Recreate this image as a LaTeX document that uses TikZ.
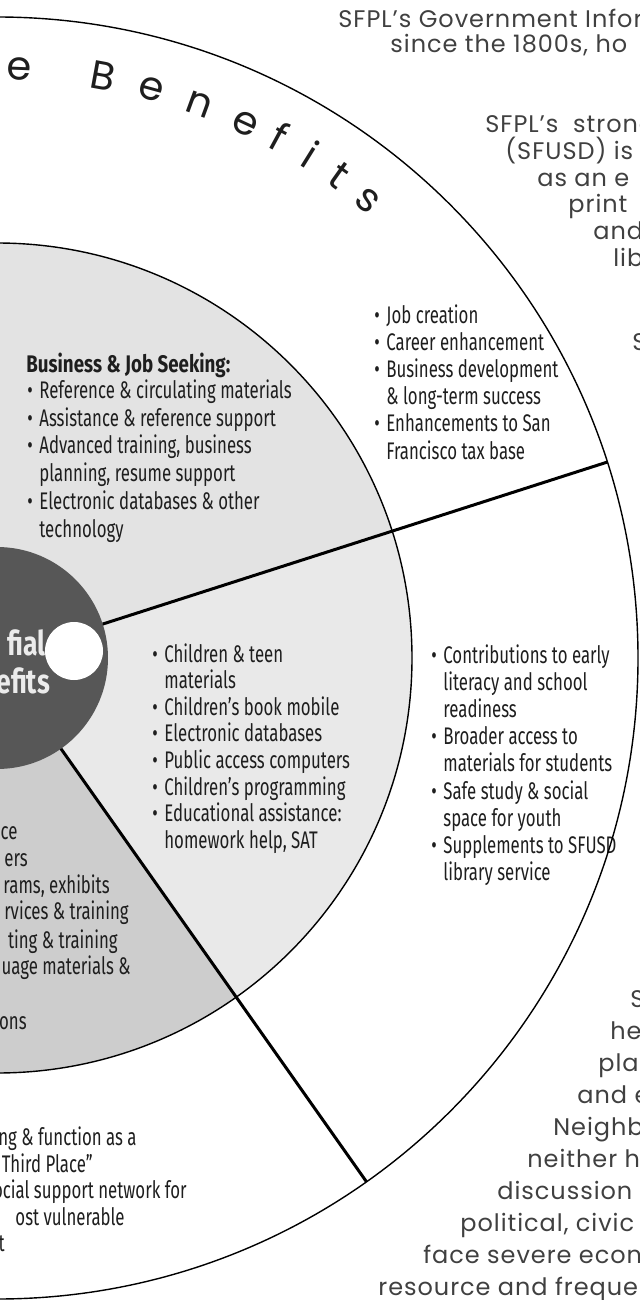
\documentclass[tikz,border=0pt]{standalone}
\usepackage{fontspec}
\setmainfont{Poppins}
\newfontfamily\condfont[FakeStretch=0.7]{Fira Sans}
\newfontfamily\headfont[FakeStretch=0.78]{Fira Sans}
\newfontfamily\parafont[LetterSpace=4]{Poppins}
\usetikzlibrary{calc}
\definecolor{ink}{HTML}{1E1E1E}
\definecolor{paper}{HTML}{E3E3E3}
\definecolor{paperlt}{HTML}{E9E9E9}
\definecolor{paperdk}{HTML}{CDCDCD}
\definecolor{hubgray}{HTML}{575757}
\newcommand{\bul}{\makebox[6pt][l]{\textbullet}}
\newcommand{\ind}{\hspace*{6pt}}

\begin{document}
\begin{tikzpicture}[x=0.5pt,y=-0.5pt,
  item/.style={anchor=base west,inner sep=0,text=ink,font=\condfont\fontsize{12}{14}\selectfont},
  cutitem/.style={item,anchor=base east},
  para/.style={anchor=base west,inner sep=0,text=ink!85,font=\parafont\fontsize{12}{14}\selectfont},
  title/.style={anchor=base,inner sep=0,text=ink,font=\fontsize{20}{20}\selectfont},
  hubtext/.style={anchor=base west,inner sep=0,text=white!92!black,font=\headfont\bfseries\fontsize{17}{17}\selectfont},
  rim/.style={line width=0.7pt},
  spoke/.style={line width=1.5pt}]
\useasboundingbox (0,0) rectangle (640,1300);
\clip (0,0) rectangle (640,1300);
\coordinate (c) at (-3,658);
\path (c) ++(-17.8:111) coordinate (s1a) ++(-17.8:530) coordinate (s1b);
\path (c) ++(54.8:111) coordinate (s2a) ++(54.8:530) coordinate (s2b);

\fill[paper] (c) circle[radius=415];
\fill[paperlt] (c) -- ($(c)+(-17.8:415)$) arc[start angle=-17.8,end angle=54.8,radius=415] -- cycle;
\fill[paperdk] (c) -- ($(c)+(54.8:415)$) arc[start angle=54.8,end angle=190,radius=415] -- cycle;
\fill[hubgray] (c) circle[radius=111];

\foreach \l/\a [count=\k] in {e/87.8,B/79.7,e/74.8,n/69.9,e/65.1,f/61.6,i/58.1,t/54.7,s/51.0}
  \node[title,rotate=\a-90,name=ttl\k] at ($(c)+(-\a:578)$) {\l};

\node[item,font=\headfont\bfseries\fontsize{12}{14}\selectfont] (bizhead) at (26,372) {Business \& Job Seeking:};
\foreach \t [count=\i from 0] in {{\bul Reference \& circulating materials},{\bul Assistance \& reference support},
  {\bul Advanced training, business},{\ind planning, resume support},{\bul Electronic databases \& other},{\ind technology}}
  \node[item,name=biz\i] at (27,398.5+27.7*\i) {\t};
\foreach \t [count=\i from 0] in {{\bul Job creation},{\bul Career enhancement},{\bul Business development},
  {\ind \& long-term success},{\bul Enhancements to San},{\ind Francisco tax base}}
  \node[item,name=job\i] at (374,323+27.2*\i) {\t};
\foreach \t [count=\i from 0] in {{\bul Children \& teen},{\ind materials},{\bul Children’s book mobile},
  {\bul Electronic databases},{\bul Public access computers},{\bul Children’s programming},
  {\bul Educational assistance:},{\ind homework help, SAT}}
  \node[item,name=kid\i] at (152,662+26.6*\i) {\t};
\foreach \t [count=\i from 0] in {{\bul Contributions to early},{\ind literacy and school},{\ind readiness},
  {\bul Broader access to},{\ind materials for students},{\bul Safe study \& social},{\ind space for youth},
  {\bul Supplements to SFUSD},{\ind library service}}
  \node[item,name=sch\i] at (431,663+27.2*\i) {\t};
\foreach \x/\y/\t [count=\k] in {18/839/ce,28/866/ers,110/893/{rams, exhibits},129/919/{rvices \& training},
  118/948/{ting \& training},131/974/{uage materials \&},27/1029/ons}
  \node[cutitem,name=low\k] at (\x,\y) {\t};
\foreach \x/\y/\t [count=\k] in {137/1145/{ng \& function as a},93/1172/{Third Place”},
  187/1198/{ocial support network for},125/1225/{ost vulnerable},5/1251/t}
  \node[cutitem,name=civ\k] at (\x,\y) {\t};

\foreach \x/\y/\t [count=\k] in {338/28/{SFPL’s Government Infor},390/53/{since the 1800s, ho},
  485/133/{SFPL’s \ strong},505/160/{(SFUSD) is},537/187/{as an e},568/213/print,593/240/and,613/266/lib,632/350/S}
  \node[para,name=pt\k] at (\x,\y) {\t};
\foreach \x/\t [count=\k from 0] in {630/S,610/he,598/pla,577/{and e},553/Neighb,527/{neither ho},
  497/{discussion g},460/{political, civic},423/{face severe econo},378/{resource and frequen}}
  \node[para,name=pb\k] at (\x,1007+32*\k) {\t};

\node[hubtext] (hub1) at (7,655) {fial};
\node[hubtext] (hub2) at (-4,693) {efits};
\fill[white] (74,651) circle[radius=29];

\draw[rim] (c) circle[radius=415];
\draw[rim] (c) circle[radius=641];
\draw[spoke] (s1a) -- (s1b);
\draw[spoke] (s2a) -- (s2b);
\end{tikzpicture}
\end{document}
